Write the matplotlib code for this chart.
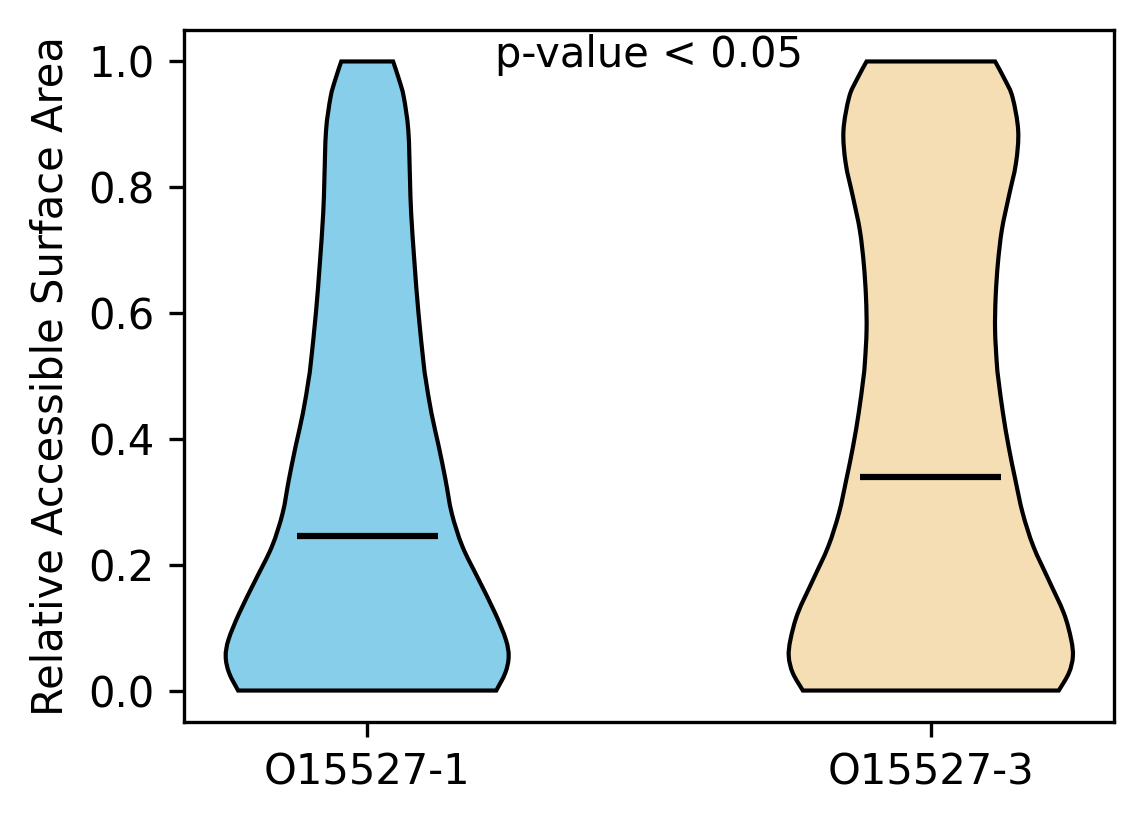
import numpy as np
import matplotlib.pyplot as plt
from matplotlib.path import Path
from matplotlib.patches import PathPatch

labels = ["O15527-1", "O15527-3"]
colors = ["skyblue", "wheat"]
medians = [0.245, 0.340]

# violin outlines: rsa value and half width
y1 = [0.0, 0.028, 0.054, 0.081, 0.123, 0.176, 0.229, 0.282, 0.335, 0.388,
      0.441, 0.494, 0.521, 0.600, 0.679, 0.759, 0.811, 0.890, 0.943, 0.970, 1.0]
w1 = [0.229, 0.245, 0.251, 0.246, 0.227, 0.198, 0.169, 0.150, 0.139, 0.127,
      0.114, 0.104, 0.100, 0.091, 0.084, 0.078, 0.076, 0.073, 0.065, 0.057, 0.046]

y2 = [0.0, 0.028, 0.054, 0.081, 0.123, 0.176, 0.229, 0.282, 0.335, 0.388,
      0.441, 0.494, 0.521, 0.573, 0.625, 0.679, 0.732, 0.784, 0.838, 0.890,
      0.943, 0.970, 1.0]
w2 = [0.227, 0.245, 0.252, 0.249, 0.236, 0.209, 0.182, 0.163, 0.150, 0.138,
      0.128, 0.120, 0.117, 0.114, 0.115, 0.119, 0.126, 0.138, 0.151, 0.155,
      0.145, 0.132, 0.114]


def smooth_side(pts):
    # catmull-rom through the read points, as cubic bezier segments
    verts = []
    n = len(pts)
    for i in range(n - 1):
        p0 = pts[max(i - 1, 0)]
        p1 = pts[i]
        p2 = pts[i + 1]
        p3 = pts[min(i + 2, n - 1)]
        verts += [p1 + (p2 - p0) / 6, p2 - (p3 - p1) / 6, p2]
    return verts


def violin_path(pos, yy, ww):
    yy = np.array(yy)
    ww = np.array(ww)
    left = np.column_stack([pos - ww, yy])
    right = np.column_stack([pos + ww, yy])[::-1]
    verts = [left[0]]
    codes = [Path.MOVETO]
    sv = smooth_side(left)
    verts += sv
    codes += [Path.CURVE4] * len(sv)
    verts.append(right[0])
    codes.append(Path.LINETO)
    sv = smooth_side(right)
    verts += sv
    codes += [Path.CURVE4] * len(sv)
    verts.append(left[0])
    codes.append(Path.CLOSEPOLY)
    return Path(verts, codes)


fig = plt.figure(figsize=(1144 / 300, 824 / 300), dpi=300)
ax = fig.add_axes([184 / 1144, 1 - 722 / 824, 930 / 1144, 692 / 824])

for i, (yy, ww) in enumerate([(y1, w1), (y2, w2)]):
    pos = i + 1
    ax.add_patch(PathPatch(violin_path(pos, yy, ww), facecolor=colors[i],
                           edgecolor="black", linewidth=1))
    ax.hlines(medians[i], pos - 0.125, pos + 0.125, color="black", linewidth=1.5)

ax.set_xticks([1, 2])
ax.set_xticklabels(labels)
ax.set_xlim(0.675, 2.325)
ax.set_ylim(-0.05, 1.05)
ax.set_ylabel("Relative Accessible Surface Area")
ax.text(1.5, 1.01, "p-value < 0.05", ha="center", va="center")

fig.savefig("out.png", dpi=300)
